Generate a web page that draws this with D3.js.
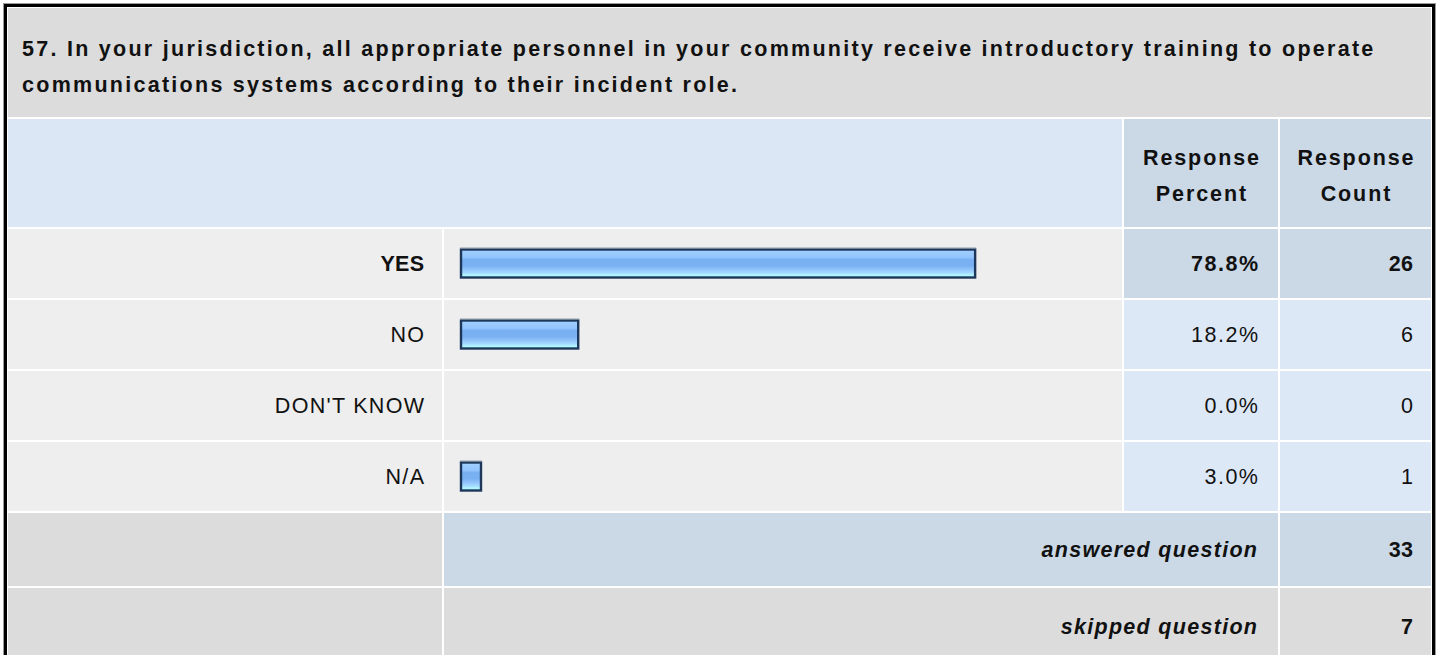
<!DOCTYPE html>
<html>
<head>
<meta charset="utf-8">
<script src="https://cdn.jsdelivr.net/npm/d3@7/dist/d3.min.js"></script>
<style>
  html, body { margin: 0; padding: 0; background: #ffffff; }
  svg { display: block; }
  text { font-family: "Liberation Sans", Arial, sans-serif; fill: #111; }
</style>
</head>
<body>
<svg id="chart" width="1437" height="655"></svg>
<script>
// ---- data ----
const titleLines = [
  "57. In your jurisdiction, all appropriate personnel in your community receive introductory training to operate",
  "communications systems according to their incident role."
];
const categories = ["YES", "NO", "DON'T KNOW", "N/A"];
const percents = [78.8, 18.2, 0.0, 3.0];
const counts = [26, 6, 0, 1];
const headerLabels = [["Response", "Percent"], ["Response", "Count"]];
const summaryLabels = ["answered question", "skipped question"];
const summaryValues = [33, 7];

// ---- layout ----
const svg = d3.select("#chart");
const FS = 21.5;
const LS_T = 2.27;  // title letter spacing
const LS_H = 1.9;   // header letter spacing
const LS = 1.3;     // body letter spacing

const cols = { c0: [8, 442], c1: [444, 1122], c2: [1124, 1278], c3: [1280, 1431] };
const rowTitle = [8, 117];
const rowHeader = [119, 227];
const dataRows = [[229, 298], [300, 369], [371, 440], [442, 511]];
const sumRows = [[513, 586], [588, 664]];

const C = {
  gray: "#dcdcdc",
  light: "#eeeeee",
  blueHead: "#dce7f5",
  blueDark: "#cbd8e6",
  blueLight: "#dde8f6"
};

function cell(x0, x1, y0, y1, fill) {
  svg.append("rect").attr("x", x0).attr("y", y0)
    .attr("width", x1 - x0).attr("height", y1 - y0).attr("fill", fill);
}
function label(xEnd, y, txt, opts = {}) {
  const ls = opts.ls ?? LS;
  const t = svg.append("text")
    .attr("x", opts.anchor === "middle" ? xEnd + ls / 2 : (opts.anchor === "start" ? xEnd : xEnd + ls))
    .attr("y", y).attr("dy", "0.35em")
    .attr("text-anchor", opts.anchor || "end")
    .attr("font-size", opts.fs || FS)
    .attr("font-weight", opts.bold ? "bold" : "normal")
    .attr("letter-spacing", ls)
    .text(txt);
  if (opts.italic) t.attr("font-style", "italic");
  return t;
}

// title
cell(8, 1431, rowTitle[0], rowTitle[1], C.gray);
titleLines.forEach((t, i) => label(22, 48 + i * 36, t, { anchor: "start", bold: true, ls: LS_T }));

// header row
cell(cols.c0[0], cols.c1[1], rowHeader[0], rowHeader[1], C.blueHead);
cell(cols.c2[0], cols.c2[1], rowHeader[0], rowHeader[1], C.blueDark);
cell(cols.c3[0], cols.c3[1], rowHeader[0], rowHeader[1], C.blueDark);
const hcols = [cols.c2, cols.c3];
headerLabels.forEach((lines, j) => {
  const cx = (hcols[j][0] + hcols[j][1]) / 2;
  lines.forEach((t, k) => label(cx, 157 + k * 36, t, { anchor: "middle", bold: true, ls: LS_H }));
});

// bar scale
const x = d3.scaleLinear().domain([0, 100]).range([0, 655]);
const barX0 = 460;

// gradient
const defs = svg.append("defs");
const grad = defs.append("linearGradient").attr("id", "barGrad")
  .attr("x1", 0).attr("y1", 0).attr("x2", 0).attr("y2", 1);
[[0, "#a3d0ff"], [0.28, "#92c5fd"], [0.36, "#78b0f2"], [0.58, "#79b1f2"],
 [0.7, "#8ec2fa"], [0.82, "#a2d6ff"], [0.9, "#aef2ff"], [1, "#b2ffff"]]
  .forEach(([o, c]) => grad.append("stop").attr("offset", o).attr("stop-color", c));

// data rows
categories.forEach((cat, i) => {
  const [y0, y1] = dataRows[i];
  const cy = (y0 + y1) / 2;
  const top = i === 0;
  cell(cols.c0[0], cols.c0[1], y0, y1, C.light);
  cell(cols.c1[0], cols.c1[1], y0, y1, C.light);
  cell(cols.c2[0], cols.c2[1], y0, y1, top ? C.blueDark : C.blueLight);
  cell(cols.c3[0], cols.c3[1], y0, y1, top ? C.blueDark : C.blueLight);
  label(cols.c0[1] - 18, cy, cat, { bold: top, ls: top ? 0.3 : LS });
  label(cols.c2[1] - 20, cy, percents[i].toFixed(1) + "%", { bold: top, ls: 1.5 });
  label(cols.c3[1] - 18, cy, String(counts[i]), { bold: top, ls: 0.3 });
  if (percents[i] > 0) {
    const w = Math.max(x(percents[i]), 22);
    svg.append("rect").attr("x", barX0 + 1).attr("y", cy - 14)
      .attr("width", w - 2).attr("height", 28)
      .attr("fill", "url(#barGrad)").attr("stroke", "#1c375a").attr("stroke-width", 2.4);
    svg.append("line").attr("x1", barX0).attr("x2", barX0 + w)
      .attr("y1", cy - 15.5).attr("y2", cy - 15.5)
      .attr("stroke", "#8f9cac").attr("stroke-width", 1);
  }
});

// summary rows
summaryLabels.forEach((lab, i) => {
  const [y0, y1] = sumRows[i];
  const cy = i === 0 ? (y0 + y1) / 2 : 626;
  cell(cols.c0[0], cols.c0[1], y0, y1, C.gray);
  cell(cols.c1[0], cols.c2[1], y0, y1, i === 0 ? C.blueDark : C.gray);
  cell(cols.c3[0], cols.c3[1], y0, y1, i === 0 ? C.blueDark : C.gray);
  label(cols.c2[1] - 21, cy, lab, { bold: true, italic: true });
  label(cols.c3[1] - 18, cy, String(summaryValues[i]), { bold: true, ls: 0.3 });
});

// outer border
svg.append("rect").attr("x", 5.5).attr("y", 5.5).attr("width", 1428).attr("height", 700)
  .attr("fill", "none").attr("stroke", "#000").attr("stroke-width", 3);
svg.append("rect").attr("x", 3.5).attr("y", 3.5).attr("width", 1432).attr("height", 700)
  .attr("fill", "none").attr("stroke", "#9a9a9a").attr("stroke-width", 1);
</script>
</body>
</html>
